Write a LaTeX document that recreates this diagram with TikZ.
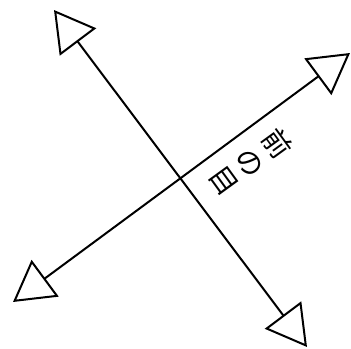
\documentclass[tikz,border=0pt]{standalone}
\usepackage{fontspec}
\newfontfamily\jpfont{Noto Sans CJK JP}
\usetikzlibrary{arrows.meta}
\tikzset{
  axisline/.style={line width=1.5pt, {Triangle[open, length=30pt, width=34pt, line width=1.5pt]}-{Triangle[open, length=30pt, width=34pt, line width=1.5pt]}},
  glyph/.style={font=\jpfont\fontsize{21}{21}\selectfont, inner sep=0pt, rotate=-54}
}
\begin{document}
\begin{tikzpicture}[x=0.75pt, y=-0.75pt]
  \useasboundingbox (0,0) rectangle (351,349);
  % ends of the two axes
  \coordinate (nw) at (54,10);
  \coordinate (se) at (307,347);
  \coordinate (sw) at (13,302);
  \coordinate (ne) at (350,53);

  % label along the rising axis
  \node (me) [glyph] at (224,181) {目};
  \node (no) [glyph] at (250,163) {の};
  \node (mae) [glyph] at (277,144) {前};

  \draw [axisline] (nw) -- (se);
  \draw [axisline] (sw) -- (ne);
\end{tikzpicture}
\end{document}
